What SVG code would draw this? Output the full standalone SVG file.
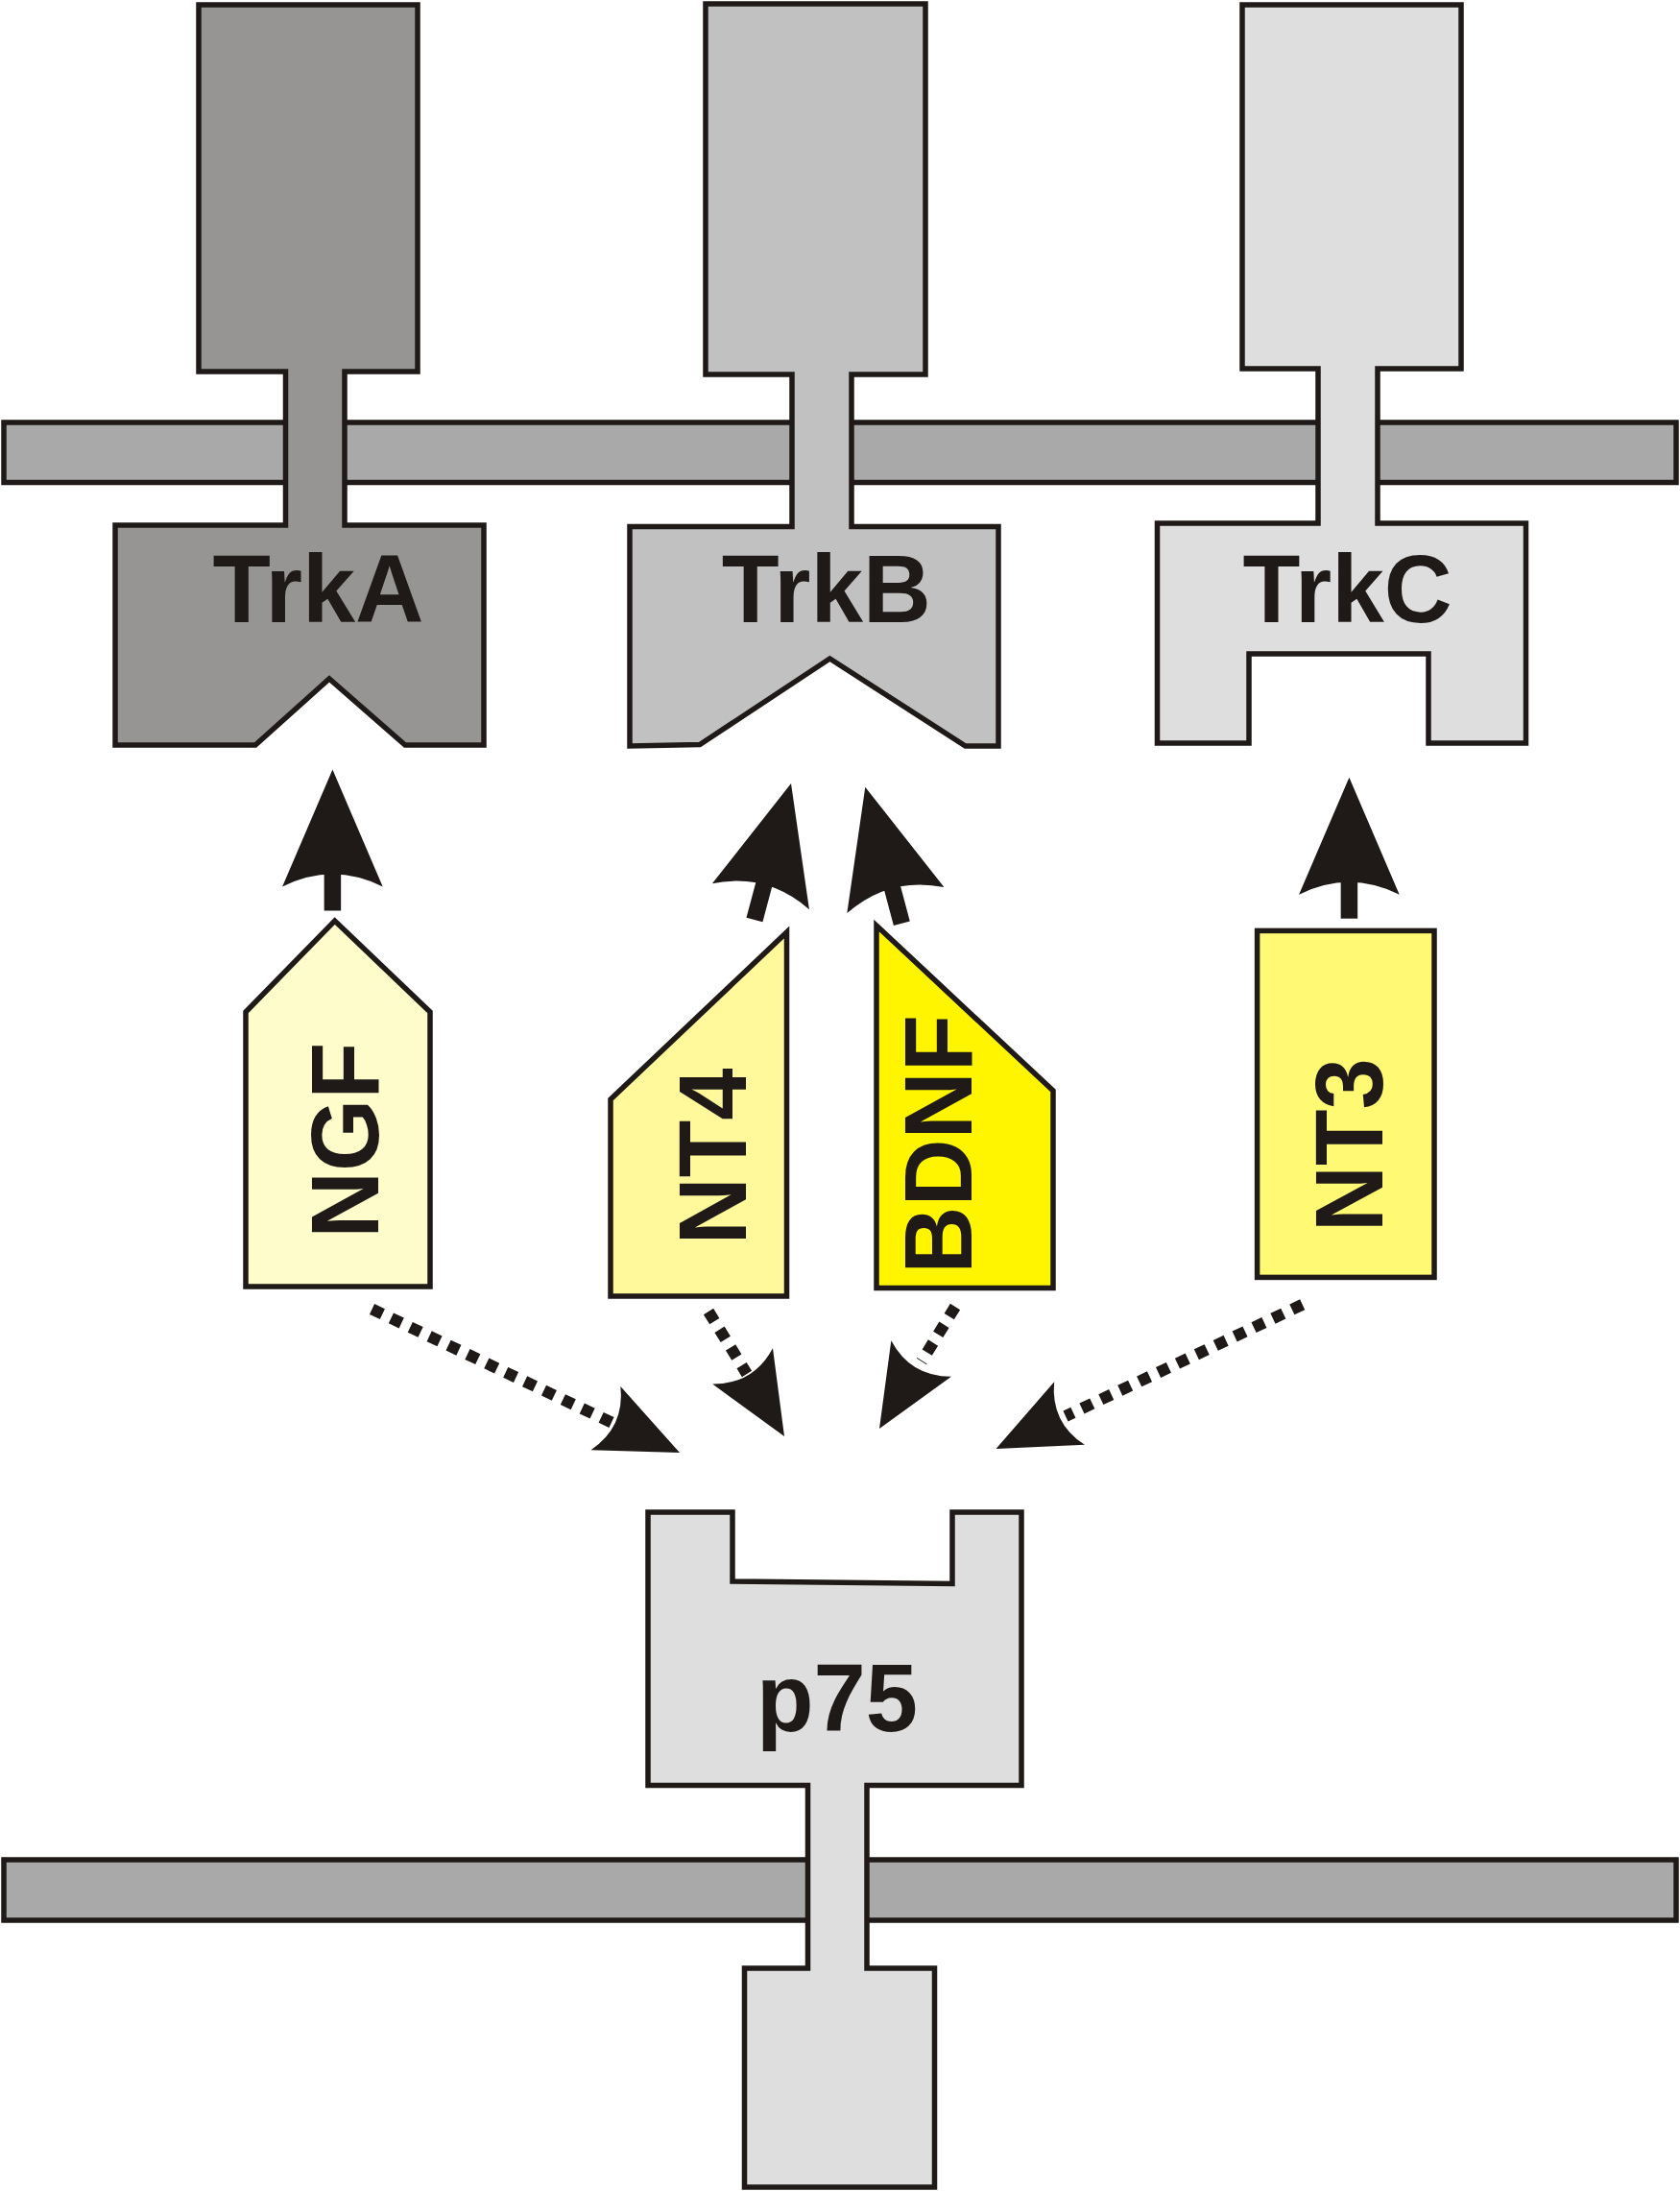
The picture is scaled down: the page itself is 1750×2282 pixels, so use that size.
<svg xmlns="http://www.w3.org/2000/svg" xmlns:xlink="http://www.w3.org/1999/xlink" width="1750" height="2282" viewBox="0 0 1750 2282">
  <style>
    .ol { stroke: #1f1a17; stroke-width: 5.5; stroke-linejoin: miter; }
    .mem { fill: #aaa9aa; }
    .lbl { font-family: "Liberation Sans", Arial, sans-serif; font-weight: bold; font-size: 100px; fill: #1f1a17; }
    .dot { fill: none; stroke: #1f1a17; stroke-width: 12; stroke-dasharray: 12 10; }
    .ink { fill: #1f1a17; }
  </style>
  <defs>
    <g id="solid-arrow">
      <path class="ink" d="M0,0 L52.3,122 Q0,96.2 -52.3,122 Z"/>
      <rect class="ink" x="-8.75" y="100" width="17.5" height="47"/>
    </g>
    <path id="dotted-head" class="ink" d="M0,0 L36.5,85 Q0,63 -36.5,85 Z"/>
  </defs>

  <g id="membrane-top">
    <rect class="ol mem" x="4" y="440" width="1742" height="62.5"/>
  </g>
  <g id="membrane-bottom">
    <rect class="ol mem" x="4" y="1937" width="1742" height="63"/>
  </g>

  <g id="TrkA">
    <path class="ol" fill="#969594" d="M207,5 H435 V387 H359 V547 H504 V776 H422 L343,707 L266,776 H120 V547 H297.5 V387 H207 Z"/>
    <text class="lbl" x="221.5" y="648" textLength="220" lengthAdjust="spacingAndGlyphs">TrkA</text>
  </g>
  <g id="TrkB">
    <path class="ol" fill="#c2c1c2" d="M735,4 H964 V390 H887 V548.5 H1040 V777 H1005.6 L864.4,686 L729,775.5 L656,777 V548.5 H825 V390 H735 Z"/>
    <text class="lbl" x="751.8" y="648" textLength="218" lengthAdjust="spacingAndGlyphs">TrkB</text>
  </g>
  <g id="TrkC">
    <path class="ol" fill="#dedede" d="M1294,5 H1522 V384 H1435 V545 H1589.5 V774 H1488 V681 H1301 V774 H1205.5 V545 H1373 V384 H1294 Z"/>
    <text class="lbl" x="1294.6" y="648" textLength="218" lengthAdjust="spacingAndGlyphs">TrkC</text>
  </g>

  <g id="p75">
    <path class="ol" fill="#dedede" d="M675,1575 H763 V1647 L992,1649.5 V1575 H1064 V1859.5 H903 V2050 H973.5 V2278 H775.5 V2050 H841.5 V1859.5 H675 Z"/>
    <text class="lbl" x="788" y="1803.4" textLength="168" lengthAdjust="spacingAndGlyphs">p75</text>
  </g>

  <g id="NGF">
    <path class="ol" fill="#fffccc" d="M256,1054 L348.7,959 L448,1054 V1340 H256 Z"/>
    <text class="lbl" text-anchor="middle" transform="translate(394.2,1187.8) rotate(-90)" textLength="204" lengthAdjust="spacingAndGlyphs">NGF</text>
  </g>
  <g id="NT4">
    <path class="ol" fill="#fff99c" d="M636,1145 L819.5,971 V1350 H636 Z"/>
    <text class="lbl" text-anchor="middle" transform="translate(776.8,1204.5) rotate(-90)" textLength="184" lengthAdjust="spacingAndGlyphs">NT4</text>
  </g>
  <g id="BDNF">
    <path class="ol" fill="#fff500" d="M913,964 L1097,1136 V1341.5 H913 Z"/>
    <text class="lbl" text-anchor="middle" transform="translate(1012,1191.8) rotate(-90)" textLength="270" lengthAdjust="spacingAndGlyphs">BDNF</text>
  </g>
  <g id="NT3">
    <rect class="ol" fill="#fff974" x="1309.6" y="969.4" width="184.4" height="361"/>
    <text class="lbl" text-anchor="middle" transform="translate(1440,1192.7) rotate(-90)" textLength="181" lengthAdjust="spacingAndGlyphs">NT3</text>
  </g>

  <g id="connectors">
    <use xlink:href="#solid-arrow" transform="translate(346.4,801.5)"/>
    <use xlink:href="#solid-arrow" transform="translate(824,815.9) rotate(15)"/>
    <use xlink:href="#solid-arrow" transform="translate(901.3,819.7) rotate(-15)"/>
    <use xlink:href="#solid-arrow" transform="translate(1405.4,809.7)"/>

    <line class="dot" x1="387.5" y1="1363.5" x2="638" y2="1482"/>
    <use xlink:href="#dotted-head" transform="translate(708,1513) rotate(115)"/>
    <line class="dot" x1="738" y1="1366" x2="778" y2="1431"/>
    <use xlink:href="#dotted-head" transform="translate(817,1496) rotate(149.3)"/>
    <line class="dot" x1="995" y1="1361" x2="960" y2="1418"/>
    <use xlink:href="#dotted-head" transform="translate(916,1488) rotate(-149.1)"/>
    <line class="dot" x1="1356.7" y1="1358.7" x2="1110" y2="1475"/>
    <use xlink:href="#dotted-head" transform="translate(1037.5,1509) rotate(-115.8)"/>
  </g>
</svg>
